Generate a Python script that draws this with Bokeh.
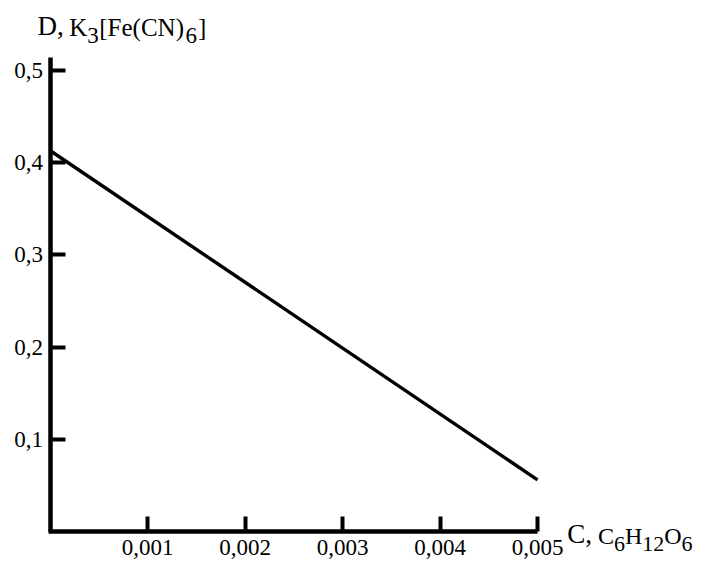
from bokeh.plotting import figure
from bokeh.models import Label, FixedTicker, Range1d
from bokeh.embed import file_html
from bokeh.resources import INLINE

# ---- data ----
glucose_conc = [0.0, 0.005]
absorbance = [0.413, 0.056]

x_ticks = [0.001, 0.002, 0.003, 0.004, 0.005]
x_tick_labels = ["0,001", "0,002", "0,003", "0,004", "0,005"]
y_ticks = [0.1, 0.2, 0.3, 0.4, 0.5]
y_tick_labels = ["0,1", "0,2", "0,3", "0,4", "0,5"]

FONT = "Liberation Serif"

# layout: frame fills the canvas, axes are pinned at the data origin
W_PX, H_PX = 713, 561
X0_PX, XPER = 49.5, 97.5 / 0.001      # screen x of x=0, px per unit
Y0_PX, YPER = 531.0, 922.5            # screen y of y=0, px per unit
x_start = -X0_PX / XPER
x_end = x_start + W_PX / XPER
y_start = -(H_PX - Y0_PX) / YPER
y_end = y_start + H_PX / YPER

p = figure(width=W_PX, height=H_PX, output_backend="svg", toolbar_location=None,
           x_range=Range1d(x_start, x_end), y_range=Range1d(y_start, y_end),
           min_border=0, min_border_left=0, min_border_right=0,
           min_border_top=0, min_border_bottom=0)
p.outline_line_color = None
p.grid.visible = False
p.background_fill_color = "white"
p.border_fill_color = "white"

p.line(glucose_conc, absorbance, line_color="black", line_width=3.4)

for ax, ticks, labels in ((p.xaxis[0], x_ticks, x_tick_labels), (p.yaxis[0], y_ticks, y_tick_labels)):
    ax.ticker = FixedTicker(ticks=ticks)
    ax.major_label_overrides = {t: l for t, l in zip(ticks, labels)}
    ax.fixed_location = 0
    ax.axis_line_width = 4.5
    ax.axis_line_color = "black"
    ax.major_tick_line_width = 4
    ax.major_tick_line_color = "black"
    ax.major_tick_in = 15
    ax.major_tick_out = 0
    ax.minor_tick_line_color = None
    ax.major_label_text_font = FONT
    ax.major_label_text_font_size = "23px"
    ax.major_label_text_color = "black"

p.xaxis.bounds = (-0.00002, 0.005)
p.yaxis.bounds = (0, 0.514)
p.xaxis.major_label_standoff = 8
p.yaxis.major_label_standoff = 7

# ---- axis titles with subscripts ----
W = {'D': 722, ',': 250, ' ': 250, 'K': 722, '3': 500, '[': 333, 'F': 556, 'e': 444,
     '(': 333, 'C': 667, 'N': 722, ')': 333, '6': 500, ']': 333, 'H': 722, '1': 500,
     '2': 500, 'O': 722}

def tw(s, size):
    return sum(W[c] for c in s) * size / 1000.0

BASE_FIX = 0.41   # compensation of the renderer's baseline placement (fraction of font size)

def put_pieces(x, y, x0, y0, pieces):
    cx = x0
    for text, size, dy, gap in pieces:
        p.add_layout(Label(x=x, y=y, x_units="data", y_units="data", x_offset=cx,
                           y_offset=y0 + dy + BASE_FIX * size, text=text, text_font=FONT,
                           text_font_size=f"{size}px", text_color="black",
                           text_baseline="alphabetic", text_align="left"))
        cx += tw(text, size) + gap

SUB = -8
put_pieces(0, 0.5, -12.5, 33, [
    ("D,", 27, 0, 5.5),
    ("K", 25, 0, 0), ("3", 23, SUB, 0.5), ("[Fe(CN)", 25, 0, 1.5),
    ("6", 23, SUB, 1), ("]", 25, 0, 0)])

put_pieces(0.005, 0, 29.7, -14, [
    ("C,", 27, 0, 6),
    ("C", 24, 0, 0), ("6", 22, SUB, 0), ("H", 24, 0, 0),
    ("12", 22, SUB, 0), ("O", 24, 0, 0), ("6", 22, SUB, 0)])

open("out.html", "w").write(file_html(p, INLINE))
